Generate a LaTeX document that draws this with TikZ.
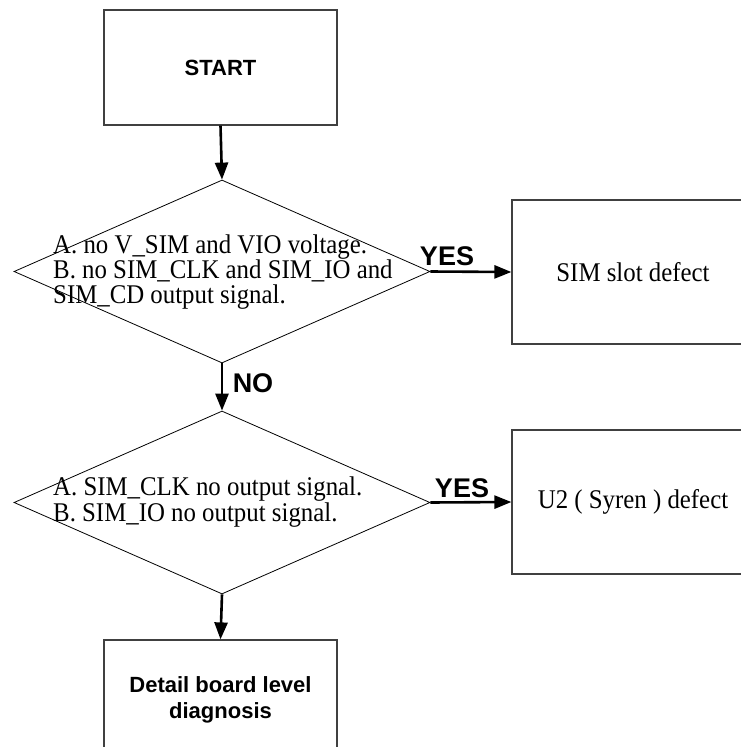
\documentclass[tikz,border=0pt]{standalone}
\usepackage{fontspec}
\setmainfont{Liberation Serif}[FakeStretch=0.92]
\setsansfont{Liberation Sans}
\usetikzlibrary{shapes.geometric,arrows.meta}
\tikzset{
  box/.style={draw=black!75, line width=1.2pt, rectangle, inner sep=0pt},
  dec/.style={draw=black, line width=0.8pt, diamond, inner sep=0pt, minimum width=416pt, minimum height=183pt},
  arr/.style={line width=2.6pt, -{Triangle[length=17pt,width=13pt]}},
  serif/.style={font=\fontsize{27}{25}\selectfont},
  sbold/.style={font=\sffamily\bfseries\fontsize{22}{26}\selectfont},
  lab/.style={font=\sffamily\bfseries\fontsize{27}{30}\selectfont, inner sep=0pt}
}
\begin{document}
\begin{tikzpicture}[x=1pt,y=-1pt]
\useasboundingbox (0,0) rectangle (741,747);
\node[box, minimum width=233pt, minimum height=115pt, sbold] (start) at (220.5,67.5) {START};
\node[dec] (d1) at (222,271.5) {};
\node[serif, align=left, inner sep=0pt, anchor=west] (t1) at (53,272)
  {A. no V\_SIM and VIO voltage.\\B. no SIM\_CLK and SIM\_IO and\\SIM\_CD output signal.};
\node[dec] (d2) at (222,502.5) {};
\node[font=\fontsize{27}{23}\selectfont, align=left, inner sep=0pt, anchor=west] (t2) at (53,502)
  {A. SIM\_CLK no output signal.\\B. SIM\_IO no output signal.};
\node[box, minimum width=242pt, minimum height=144pt, serif] (sim) at (633,272) {SIM slot defect};
\node[box, minimum width=242pt, minimum height=144pt, serif] (u2) at (633,502) {U2 ( Syren ) defect};
\node[box, minimum width=233pt, minimum height=120pt, sbold, align=center] (detail) at (220.5,700) {Detail board level\\diagnosis};
\draw[arr] (start.south) -- (d1.north);
\draw[arr] (d1.south) -- (d2.north);
\draw[arr] (d2.south) -- (detail.north);
\draw[arr] (d1.east) -- (sim.west);
\draw[arr] (d2.east) -- (u2.west);
\node[lab] (yes1) at (447,256) {YES};
\node[lab] (yes2) at (462,488) {YES};
\node[lab] (no) at (253,383) {NO};
\end{tikzpicture}
\end{document}
